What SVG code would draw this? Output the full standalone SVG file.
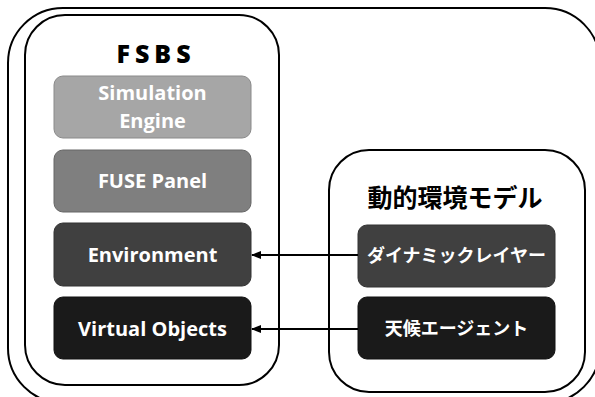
<svg xmlns="http://www.w3.org/2000/svg" width="595" height="397" viewBox="0 0 595 397">
<style>
.frame{fill:none;stroke:#000;stroke-width:2}
.box{stroke-width:1}
.lbl{font-family:"Open Sans",Lato,sans-serif;font-weight:bold;font-size:20px;fill:#fff;text-anchor:middle}
.jp{font-family:"Noto Sans CJK JP",sans-serif;font-weight:bold;font-size:18px;fill:#fff;text-anchor:middle}
.title{font-family:"Open Sans",Lato,sans-serif;font-weight:800;font-size:25px;fill:#000;text-anchor:middle;letter-spacing:5px}
.jtitle{font-family:"Noto Sans CJK JP",sans-serif;font-weight:bold;font-size:25px;fill:#000;text-anchor:middle}
.conn{stroke:#000;stroke-width:2;fill:none}
</style>
<defs>
<marker id="ah" markerWidth="10" markerHeight="8" refX="9" refY="4" orient="auto" markerUnits="userSpaceOnUse">
<path d="M0,0 L10,4 L0,8 Z" fill="#000"/>
</marker>
</defs>
<rect width="595" height="397" fill="#fff"/>
<g id="outer"><rect class="frame" x="8" y="8" width="592" height="395" rx="55"/></g>
<g id="fsbs">
<rect class="frame" x="25" y="15" width="254" height="370" rx="40"/>
<text class="title" x="156" y="63">FSBS</text>
</g>
<g id="dynamic-env">
<rect class="frame" x="329" y="150" width="256" height="242" rx="40"/>
<text class="jtitle" x="455" y="207">動的環境モデル</text>
</g>
<g id="sim-engine">
<rect class="box" x="54" y="76" width="197" height="62" rx="9" fill="#a6a6a6" stroke="#8a8a8a"/>
<text class="lbl" x="152.5" y="100">Simulation</text>
<text class="lbl" x="152.5" y="128">Engine</text>
</g>
<g id="fuse-panel">
<rect class="box" x="54" y="150" width="197" height="62" rx="9" fill="#7f7f7f" stroke="#666"/>
<text class="lbl" x="152.5" y="188">FUSE Panel</text>
</g>
<g id="environment">
<rect class="box" x="54" y="223" width="197" height="63" rx="9" fill="#404040" stroke="#333"/>
<text class="lbl" x="152.5" y="262">Environment</text>
</g>
<g id="virtual-objects">
<rect class="box" x="54" y="297" width="197" height="62" rx="9" fill="#1a1a1a" stroke="#111"/>
<text class="lbl" x="152.5" y="336">Virtual Objects</text>
</g>
<g id="dynamic-layer">
<rect class="box" x="358" y="225" width="197" height="62" rx="9" fill="#404040" stroke="#333"/>
<text class="jp" x="456.5" y="262">ダイナミックレイヤー</text>
</g>
<g id="weather-agent">
<rect class="box" x="358" y="297" width="197" height="62" rx="9" fill="#1a1a1a" stroke="#111"/>
<text class="jp" x="456.5" y="335">天候エージェント</text>
</g>
<g id="connectors">
<line class="conn" x1="358" y1="255" x2="252" y2="255" marker-end="url(#ah)"/>
<line class="conn" x1="358" y1="329" x2="252" y2="329" marker-end="url(#ah)"/>
</g>
</svg>
